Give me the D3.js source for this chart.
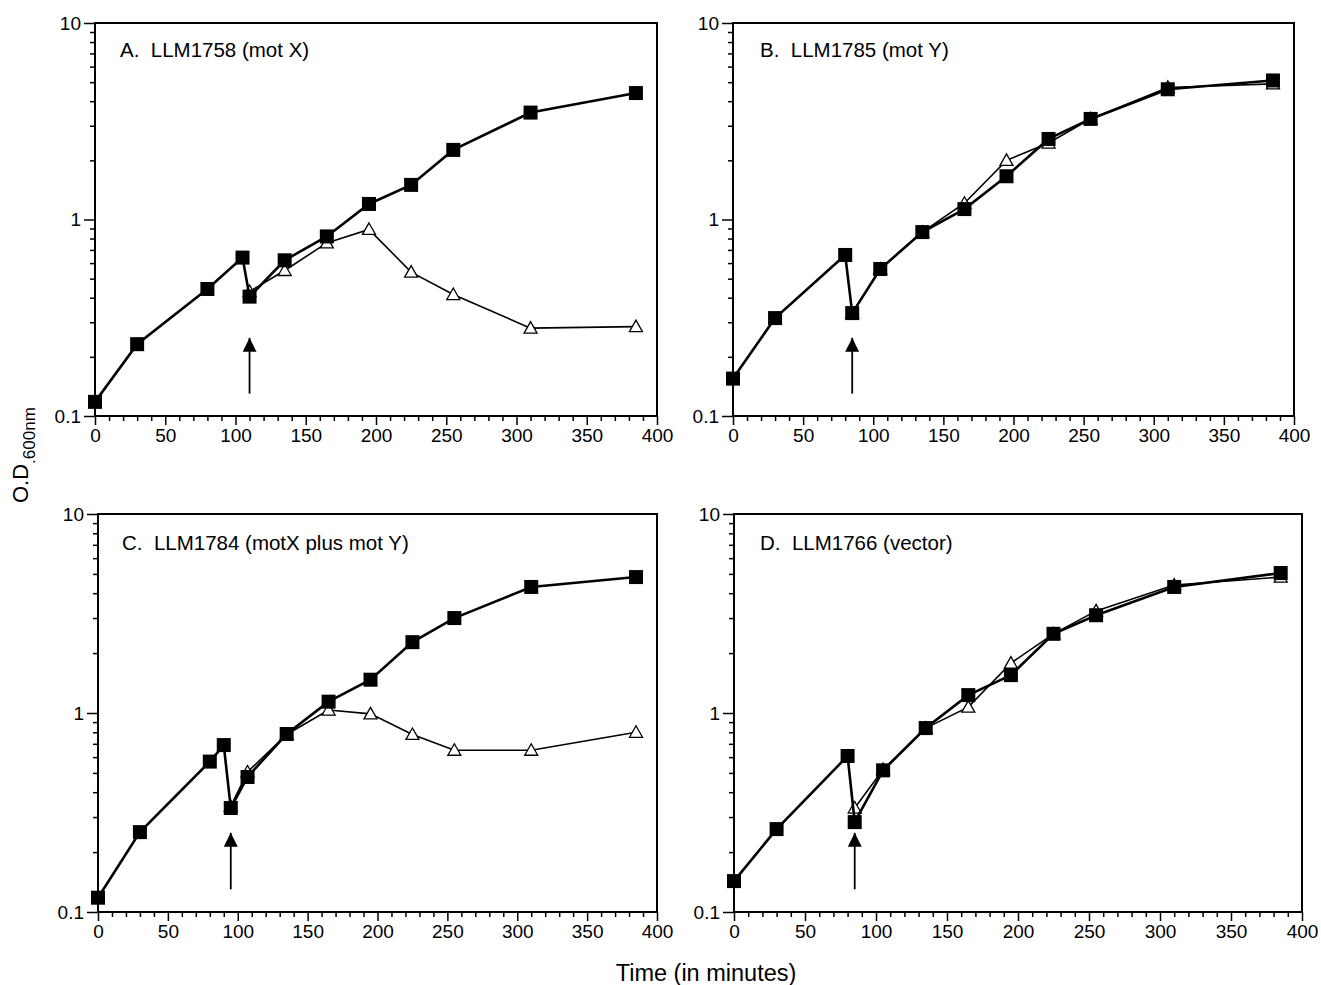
<!DOCTYPE html>
<html>
<head>
<meta charset="utf-8">
<script src="https://cdn.jsdelivr.net/npm/d3@7"></script>
<style>
  body { margin: 0; background: #fff; }
  text { font-family: "Liberation Sans", Arial, Helvetica, sans-serif; fill: #000; }
</style>
</head>
<body>
<svg id="chart" width="1321" height="985"></svg>
<script>
// panel titles
var titles = ["A.  LLM1758 (mot X)", "B.  LLM1785 (mot Y)",
              "C.  LLM1784 (motX plus mot Y)", "D.  LLM1766 (vector)"];

// filled squares (uninduced) - time in minutes, O.D.600
var sqTimeA = [0, 30, 80, 105, 110, 135, 165, 195, 225, 255, 310, 385];
var sqA     = [0.118, 0.232, 0.443, 0.64, 0.405, 0.62, 0.82, 1.2, 1.5, 2.26, 3.5, 4.4];
var triTimeA = [110, 135, 165, 195, 225, 255, 310, 385];
var triA     = [0.43, 0.55, 0.76, 0.89, 0.54, 0.415, 0.28, 0.285];

var sqTimeB = [0, 30, 80, 85, 105, 135, 165, 195, 225, 255, 310, 385];
var sqB     = [0.155, 0.315, 0.66, 0.334, 0.56, 0.863, 1.13, 1.66, 2.57, 3.25, 4.6, 5.1];
var triTimeB = [85, 105, 135, 165, 195, 225, 255, 310, 385];
var triB     = [0.334, 0.56, 0.863, 1.21, 2.0, 2.45, 3.25, 4.7, 4.9];

var sqTimeC = [0, 30, 80, 90, 95, 107, 135, 165, 195, 225, 255, 310, 385];
var sqC     = [0.118, 0.252, 0.57, 0.69, 0.333, 0.477, 0.784, 1.14, 1.47, 2.27, 3.0, 4.3, 4.82];
var triTimeC = [95, 107, 135, 165, 195, 225, 255, 310, 385];
var triC     = [0.34, 0.505, 0.78, 1.035, 0.99, 0.78, 0.65, 0.65, 0.8];

var sqTimeD = [0, 30, 80, 85, 105, 135, 165, 195, 225, 255, 310, 385];
var sqD     = [0.143, 0.261, 0.608, 0.283, 0.515, 0.84, 1.23, 1.55, 2.5, 3.1, 4.3, 5.05];
var triTimeD = [85, 105, 135, 165, 195, 225, 255, 310, 385];
var triD     = [0.333, 0.52, 0.84, 1.07, 1.78, 2.5, 3.26, 4.4, 4.82];

// time of the induction arrow, and its tip / tail in O.D. units
var arrowTimes = [110, 85, 95, 85];
var arrowTip = 0.25, arrowTail = 0.13;

var xTicks = [0, 50, 100, 150, 200, 250, 300, 350, 400];
var yTicks = [0.1, 1, 10];

var svg = d3.select("#chart");

// arrowhead
svg.append("defs").append("marker")
    .attr("id", "head")
    .attr("viewBox", "0 0 10 10")
    .attr("refX", 10).attr("refY", 5)
    .attr("markerWidth", 14).attr("markerHeight", 14)
    .attr("markerUnits", "userSpaceOnUse")
    .attr("orient", "auto")
  .append("path").attr("d", "M0,0 L10,5 L0,10 Z").attr("fill", "#000");

var panels = [
  {box: [95, 657, 23, 416],   sx: sqTimeA, sy: sqA, tx: triTimeA, ty: triA},
  {box: [733, 1294, 23, 416], sx: sqTimeB, sy: sqB, tx: triTimeB, ty: triB},
  {box: [98, 657, 514, 912],  sx: sqTimeC, sy: sqC, tx: triTimeC, ty: triC},
  {box: [734, 1302, 514, 912], sx: sqTimeD, sy: sqD, tx: triTimeD, ty: triD}
];
var titleDx = [25, 27, 24, 26], titleDy = [34, 34, 36, 36];

panels.forEach(function(p, i) {
    var x = d3.scaleLinear().domain([0, 400]).range([p.box[0], p.box[1]]);
    var y = d3.scaleLog().domain([0.1, 10]).range([p.box[3], p.box[2]]);
    var g = svg.append("g");

    // frame
    g.append("rect")
        .attr("x", x(0)).attr("y", y(10))
        .attr("width", x(400) - x(0)).attr("height", y(0.1) - y(10))
        .attr("fill", "none").attr("stroke", "#000").attr("stroke-width", 2);

    // x axis: minor ticks every 10, labelled majors every 50
    var xMinor = d3.range(0, 401, 10).filter(function(d) { return d % 50 != 0; });
    var xa = g.append("g").attr("transform", "translate(0," + y(0.1) + ")");
    xa.call(d3.axisBottom(x).tickValues(xMinor).tickSize(5).tickFormat(""));
    xa.append("g").call(d3.axisBottom(x).tickValues(xTicks).tickSize(9).tickPadding(4));
    xa.selectAll(".domain").remove();
    xa.selectAll("line").attr("stroke", "#000").attr("stroke-width", 1.5);
    xa.selectAll("text").attr("font-size", 19).attr("fill", "#000")
        .style("font-family", "Liberation Sans, Arial, sans-serif");

    // y axis: log minor ticks outward
    var yMinor = [];
    [0.1, 1].forEach(function(dec) {
        for (var k = 2; k <= 9; k++) yMinor.push(dec * k);
    });
    var ya = g.append("g").attr("transform", "translate(" + x(0) + ",0)");
    ya.call(d3.axisLeft(y).tickValues(yMinor).tickSize(5).tickFormat(""));
    ya.append("g").call(d3.axisLeft(y).tickValues(yTicks).tickSize(11).tickPadding(3)
        .tickFormat(function(d) { return d < 1 ? "0.1" : d3.format("d")(d); }));
    ya.selectAll(".domain").remove();
    ya.selectAll("line").attr("stroke", "#000").attr("stroke-width", 1.5);
    ya.selectAll("text").attr("font-size", 19).attr("fill", "#000")
        .style("font-family", "Liberation Sans, Arial, sans-serif");

    // title
    g.append("text")
        .attr("x", x(0) + titleDx[i]).attr("y", y(10) + titleDy[i])
        .attr("font-size", 20.5)
        .style("white-space", "pre")
        .text(titles[i]);

    // triangle series (open)
    var tri = d3.zip(p.tx, p.ty);
    g.append("path").datum(tri)
        .attr("d", d3.line().x(function(d) { return x(d[0]); }).y(function(d) { return y(d[1]); }))
        .attr("fill", "none").attr("stroke", "#000").attr("stroke-width", 1.6);
    g.selectAll(".tri").data(tri).enter().append("path")
        .attr("transform", function(d) { return "translate(" + x(d[0]) + "," + y(d[1]) + ")"; })
        .attr("d", "M0,-6.5 L6.5,5 L-6.5,5 Z")
        .attr("fill", "#fff").attr("stroke", "#000").attr("stroke-width", 1.3);

    // square series (filled)
    var sq = d3.zip(p.sx, p.sy);
    g.append("path").datum(sq)
        .attr("d", d3.line().x(function(d) { return x(d[0]); }).y(function(d) { return y(d[1]); }))
        .attr("fill", "none").attr("stroke", "#000").attr("stroke-width", 2.6);
    g.selectAll(".sq").data(sq).enter().append("rect")
        .attr("x", function(d) { return x(d[0]) - 7; })
        .attr("y", function(d) { return y(d[1]) - 7; })
        .attr("width", 14).attr("height", 14)
        .attr("fill", "#000");

    // induction arrow
    g.append("line")
        .attr("x1", x(arrowTimes[i])).attr("x2", x(arrowTimes[i]))
        .attr("y1", y(arrowTail)).attr("y2", y(arrowTip))
        .attr("stroke", "#000").attr("stroke-width", 1.8)
        .attr("marker-end", "url(#head)");
});

// shared axis titles
var yl = svg.append("text")
    .attr("transform", "translate(28,503) rotate(-90)")
    .attr("text-anchor", "start")
    .attr("font-size", 22);
yl.append("tspan").text("O.D");
yl.append("tspan").attr("font-size", 17).attr("dy", 7).text(".600nm");

svg.append("text")
    .attr("x", 706).attr("y", 981)
    .attr("text-anchor", "middle")
    .attr("font-size", 23.5)
    .text("Time (in minutes)");
</script>
</body>
</html>
